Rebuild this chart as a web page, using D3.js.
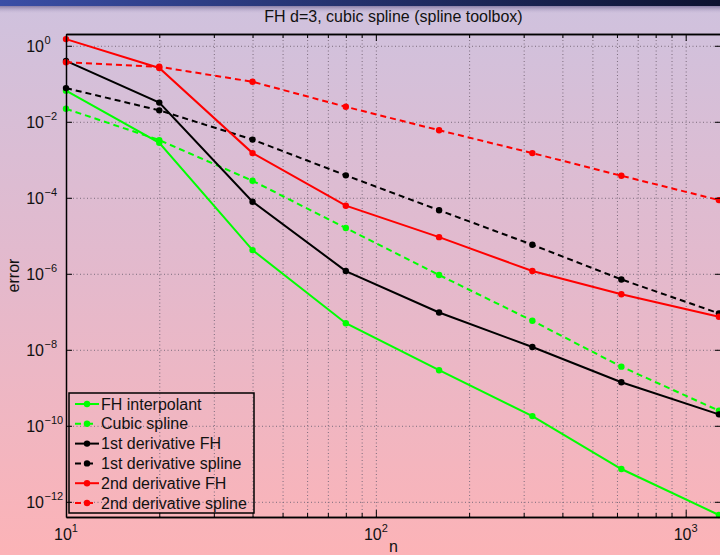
<!DOCTYPE html>
<html>
<head>
<meta charset="utf-8">
<script src="https://cdn.jsdelivr.net/npm/d3@7"></script>
<style>
  body { margin: 0; padding: 0; }
  svg { display: block; font-family: "Liberation Sans", Arial, sans-serif; }
</style>
</head>
<body>
<div class="canvas"></div>
<script>
const svgWidth = 720;
const svgHeight = 555;

// data
const nValues = [10, 20, 40, 80, 160, 320, 620, 1280];
const fhInterpolant = [0.066, 2.8e-3, 4.2e-6, 5.0e-8, 2.9e-9, 1.8e-10, 7.3e-12, 4.5e-13];
const cubicSpline = [0.022, 3.3e-3, 2.8e-4, 1.6e-5, 9.3e-7, 5.8e-8, 3.6e-9, 2.5e-10];
const firstDerivFH = [0.40, 0.032, 7.9e-5, 1.18e-6, 9.6e-8, 1.18e-8, 1.4e-9, 2.0e-10];
const firstDerivSpline = [0.077, 0.020, 3.4e-3, 3.9e-4, 4.7e-5, 5.8e-6, 7.1e-7, 9.1e-8];
const secondDerivFH = [1.5, 0.26, 1.5e-3, 6.2e-5, 9.2e-6, 1.18e-6, 2.9e-7, 7.4e-8];
const secondDerivSpline = [0.37, 0.28, 0.113, 0.0248, 6.0e-3, 1.5e-3, 3.8e-4, 8.7e-5];

const seriesNames = ['FH interpolant', 'Cubic spline', '1st derivative FH',
    '1st derivative spline', '2nd derivative FH', '2nd derivative spline'];
const seriesValues = [fhInterpolant, cubicSpline, firstDerivFH,
    firstDerivSpline, secondDerivFH, secondDerivSpline];
const seriesColors = ['#00ff00', '#00ff00', '#000000', '#000000', '#ff0000', '#ff0000'];
const seriesDashed = [false, true, false, true, false, true];

const xMajorTicks = [10, 100, 1000];
const xMinorTicks = [20, 30, 40, 50, 60, 70, 80, 90, 200, 300, 400, 500, 600, 700, 800, 900];
const yTickExponents = [0, -2, -4, -6, -8, -10, -12];

const titleText = 'FH d=3, cubic spline (spline toolbox)';

// plot box
const plot = { left: 66, top: 34, right: 721, bottom: 517 };

const svg = d3.select('.canvas')
    .append('svg')
    .attr('width', svgWidth)
    .attr('height', svgHeight);

const defs = svg.append('defs');

const bgGrad = defs.append('linearGradient')
    .attr('id', 'bg').attr('x1', 0).attr('y1', 0).attr('x2', 0).attr('y2', 1);
bgGrad.append('stop').attr('offset', '0%').attr('stop-color', '#cfc2de');
bgGrad.append('stop').attr('offset', '50%').attr('stop-color', '#e4b9cc');
bgGrad.append('stop').attr('offset', '100%').attr('stop-color', '#fcb3b7');

const barGrad = defs.append('linearGradient')
    .attr('id', 'bar').attr('x1', 0).attr('y1', 0).attr('x2', 1).attr('y2', 0);
barGrad.append('stop').attr('offset', '0%').attr('stop-color', '#3a4ea6');
barGrad.append('stop').attr('offset', '100%').attr('stop-color', '#0c1230');

const fadeGrad = defs.append('linearGradient')
    .attr('id', 'fade').attr('x1', 0).attr('y1', 0).attr('x2', 0).attr('y2', 1);
fadeGrad.append('stop').attr('offset', '0%').attr('stop-color', '#6d6390').attr('stop-opacity', 0.9);
fadeGrad.append('stop').attr('offset', '100%').attr('stop-color', '#cfc2de').attr('stop-opacity', 0);

svg.append('rect').attr('width', svgWidth).attr('height', svgHeight).attr('fill', 'url(#bg)');
svg.append('rect').attr('y', 5).attr('width', svgWidth).attr('height', 9).attr('fill', 'url(#fade)');
svg.append('rect').attr('width', svgWidth).attr('height', 6).attr('fill', 'url(#bar)');

// scales
const x = d3.scaleLog()
    .domain([10, 1300])
    .range([plot.left, plot.right]);

const y = d3.scaleLog()
    .domain([Math.pow(10, -12.4), Math.pow(10, 0.31)])
    .range([plot.bottom, plot.top]);

const yTicks = yTickExponents.map(e => Math.pow(10, e));
const plotH = plot.bottom - plot.top;
const plotW = plot.right - plot.left;

// grid (dotted)
const gridX = svg.append('g')
    .attr('transform', `translate(0, ${plot.bottom})`)
    .call(d3.axisBottom(x).tickValues(xMajorTicks.concat(xMinorTicks)).tickSize(-plotH).tickFormat(''));
const gridY = svg.append('g')
    .attr('transform', `translate(${plot.left}, 0)`)
    .call(d3.axisLeft(y).tickValues(yTicks).tickSize(-plotW).tickFormat(''));
[gridX, gridY].forEach(g => {
    g.select('.domain').remove();
    g.selectAll('line')
        .attr('stroke', '#7b6b7c')
        .attr('stroke-width', 1)
        .attr('stroke-dasharray', '1,2.5');
});

// series lines
const line = d3.line()
    .x(d => x(d[0]))
    .y(d => y(d[1]));

seriesValues.forEach((vals, i) => {
    const pts = nValues.map((n, k) => [n, vals[k]]);
    const g = svg.append('g').attr('class', 'series');
    g.append('path')
        .datum(pts)
        .attr('d', line)
        .attr('fill', 'none')
        .attr('stroke', seriesColors[i])
        .attr('stroke-width', 2)
        .attr('stroke-dasharray', seriesDashed[i] ? '6,4' : null);
    g.selectAll('circle')
        .data(pts)
        .enter()
        .append('circle')
        .attr('cx', d => x(d[0]))
        .attr('cy', d => y(d[1]))
        .attr('r', 3.2)
        .attr('fill', seriesColors[i]);
});

// axes box and inward ticks
function styleAxis(g) {
    g.select('.domain').attr('stroke', '#000').attr('stroke-width', 1.5);
    g.selectAll('.tick line').attr('stroke', '#000').attr('stroke-width', 1);
    g.selectAll('.tick text').remove();
}

svg.append('g').attr('transform', `translate(0, ${plot.bottom})`)
    .call(d3.axisBottom(x).tickValues(xMinorTicks).tickSize(-4).tickSizeOuter(0)).call(styleAxis);
const xBottom = svg.append('g').attr('transform', `translate(0, ${plot.bottom})`)
    .call(d3.axisBottom(x).tickValues(xMajorTicks).tickSize(-7).tickSizeOuter(0).tickFormat(''));
styleAxis(xBottom);
svg.append('g').attr('transform', `translate(0, ${plot.top})`)
    .call(d3.axisTop(x).tickValues(xMinorTicks).tickSize(-4).tickSizeOuter(0)).call(styleAxis);
svg.append('g').attr('transform', `translate(0, ${plot.top})`)
    .call(d3.axisTop(x).tickValues(xMajorTicks).tickSize(-7).tickSizeOuter(0)).call(styleAxis);
svg.append('g').attr('transform', `translate(${plot.left}, 0)`)
    .call(d3.axisLeft(y).tickValues(yTicks).tickSize(-6).tickSizeOuter(0)).call(styleAxis);
svg.append('g').attr('transform', `translate(${plot.right}, 0)`)
    .call(d3.axisRight(y).tickValues(yTicks).tickSize(-6).tickSizeOuter(0)).call(styleAxis);

// tick labels: 10 with superscript exponent
const xLabels = svg.append('g').attr('fill', '#111');
xMajorTicks.forEach(v => {
    const t = xLabels.append('text')
        .attr('x', x(v))
        .attr('y', 540)
        .attr('text-anchor', 'middle')
        .attr('font-size', 16);
    t.append('tspan').text('10');
    t.append('tspan').attr('dy', -8).attr('font-size', 11).text(Math.round(Math.log10(v)));
});

const yLabels = svg.append('g').attr('fill', '#111');
yTickExponents.forEach((e, i) => {
    const ty = y(yTicks[i]);
    yLabels.append('text')
        .attr('x', 44)
        .attr('y', ty + 6.5)
        .attr('text-anchor', 'end')
        .attr('font-size', 16)
        .text('10');
    yLabels.append('text')
        .attr('x', 44.5)
        .attr('y', ty - 1.5)
        .attr('font-size', 11)
        .text(e === 0 ? '0' : '\u2212' + Math.abs(e));
});

// axis titles
svg.append('text')
    .attr('x', (plot.left + plot.right) / 2)
    .attr('y', 552)
    .attr('text-anchor', 'middle')
    .attr('font-size', 16)
    .attr('fill', '#111')
    .text('n');

svg.append('text')
    .attr('transform', `translate(19, ${(plot.top + plot.bottom) / 2}) rotate(-90)`)
    .attr('text-anchor', 'middle')
    .attr('font-size', 16)
    .attr('fill', '#111')
    .text('error');

svg.append('text')
    .attr('x', (plot.left + plot.right) / 2)
    .attr('y', 22)
    .attr('text-anchor', 'middle')
    .attr('font-size', 16)
    .attr('fill', '#111')
    .text(titleText);

// legend
const legend = svg.append('g').attr('transform', 'translate(69, 393)');
legend.append('rect')
    .attr('width', 185)
    .attr('height', 120)
    .attr('fill', 'none')
    .attr('stroke', '#000')
    .attr('stroke-width', 1.5);

seriesNames.forEach((name, i) => {
    const row = legend.append('g').attr('transform', `translate(0, ${11 + i * 19.8})`);
    row.append('line')
        .attr('x1', 6).attr('x2', 30)
        .attr('stroke', seriesColors[i])
        .attr('stroke-width', 2)
        .attr('stroke-dasharray', seriesDashed[i] ? '6,6' : null);
    row.append('circle')
        .attr('cx', 18)
        .attr('r', 3.2)
        .attr('fill', seriesColors[i]);
    row.append('text')
        .attr('x', 32)
        .attr('y', 5.5)
        .attr('font-size', 16)
        .attr('fill', '#111')
        .text(name);
});
</script>
</body>
</html>
